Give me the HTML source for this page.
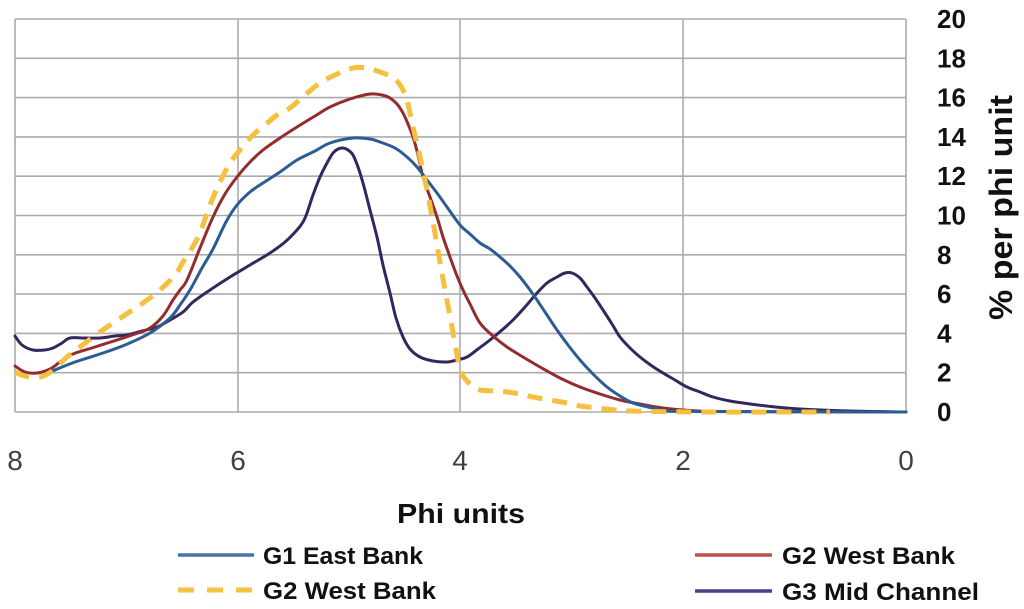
<!DOCTYPE html>
<html>
<head>
<meta charset="utf-8">
<style>
html,body{margin:0;padding:0;background:#fff;}
svg{display:block;}
text{font-family:"Liberation Sans",sans-serif;}
</style>
</head>
<body>
<svg id="chart" width="1024" height="609" viewBox="0 0 1024 609" xmlns="http://www.w3.org/2000/svg">
<rect width="1024" height="609" fill="#fff"/>
<!-- grid -->
<g stroke="#ababab" stroke-width="1.6" fill="none">
<line x1="15" y1="19" x2="906" y2="19"/>
<line x1="15" y1="58.3" x2="906" y2="58.3"/>
<line x1="15" y1="97.6" x2="906" y2="97.6"/>
<line x1="15" y1="136.9" x2="906" y2="136.9"/>
<line x1="15" y1="176.2" x2="906" y2="176.2"/>
<line x1="15" y1="215.5" x2="906" y2="215.5"/>
<line x1="15" y1="254.8" x2="906" y2="254.8"/>
<line x1="15" y1="294.1" x2="906" y2="294.1"/>
<line x1="15" y1="333.4" x2="906" y2="333.4"/>
<line x1="15" y1="372.7" x2="906" y2="372.7"/>
<line x1="15" y1="412" x2="906" y2="412"/>
<line x1="15" y1="19" x2="15" y2="412"/>
<line x1="238" y1="19" x2="238" y2="412"/>
<line x1="460" y1="19" x2="460" y2="412"/>
<line x1="683" y1="19" x2="683" y2="412"/>
<line x1="906" y1="19" x2="906" y2="412"/>
</g>
<!-- series -->
<g fill="none" stroke-linejoin="round" stroke-linecap="round">
<polyline class="s" stroke="#35265f" stroke-width="3" points="15,336 22,345 33,350 45,350 53,348 62,343 70,338 85,338 100,338 115,336 127,335 142,331 157,327 170,320 183,312 193,302 210,290 230,277 250,265 270,253 285,242 297,230 303,222 307,213 313,195 320,177 327,163 333,153 338,149 343,148 348,150 353,155 358,167 363,183 370,210 377,237 383,265 390,293 396,318 403,337 410,349 420,357 433,361 447,362 457,360 467,357 478,349 490,340 502,330 513,320 525,307 537,293 547,283 557,277 565,273 572,273 580,278 587,287 595,298 603,310 612,324 620,337 630,348 640,357 652,366 663,373 675,380 687,387 700,392 713,397 730,401 750,404 775,407 800,409 850,411 906,412"/>
<polyline class="s" stroke="#932c2e" stroke-width="3" points="15,366 25,372 37,373 50,369 60,362 73,354 95,347 117,340 135,334 150,328 163,316 173,300 180,290 187,280 200,248 213,217 225,194 237,177 250,162 263,150 280,138 297,127 315,116 330,107 350,99 370,94 382,95 390,98 397,104 403,113 408,124 413,137 418,155 423,177 430,197 437,217 443,237 450,257 457,276 463,290 470,304 480,323 493,336 507,347 523,357 540,367 560,378 580,387 600,394 620,400 640,404 663,408 690,410.5 730,411.5 906,412"/>
<polyline class="s" stroke="#2b5c93" stroke-width="3" points="50,372 75,362 100,354 125,345 150,333 170,318 180,305 190,290 202,268 213,249 226,222 237,205 250,192 263,183 280,172 297,160 315,151 330,143 353,138 370,139 380,142 395,148 407,157 417,167 427,180 437,193 447,207 460,225 470,234 480,243 490,249 500,257 510,266 520,277 530,290 537,300 547,315 557,330 568,345 580,360 593,374 607,387 620,396 633,403 648,407 663,410 690,411.5 906,412"/>
<polyline class="s" stroke="#f5bf40" stroke-width="5" stroke-linecap="butt" stroke-dasharray="15,10" points="15,372 25,376 40,377 52,371 67,357 80,347 93,337 113,323 128,313 143,303 160,290 175,275 183,262 192,248 200,233 210,205 220,182 230,163 240,150 253,135 265,125 277,115 290,108 305,95 320,83 335,75 353,68 367,68 380,72 390,76 397,81 403,90 407,100 413,127 420,157 427,190 433,222 440,262 445,290 452,327 458,360 462,374 467,381 474,387 480,390 493,391 507,392 520,394 533,397 550,400 567,403 580,406 597,408 615,410 630,411 700,412 830,412"/>
</g>
<!-- y tick labels -->
<g font-size="26" font-weight="bold" fill="#111">
<text x="937" y="28">20</text>
<text x="937" y="67.3">18</text>
<text x="937" y="106.6">16</text>
<text x="937" y="145.9">14</text>
<text x="937" y="185.2">12</text>
<text x="937" y="224.5">10</text>
<text x="937" y="263.8">8</text>
<text x="937" y="303.1">6</text>
<text x="937" y="342.4">4</text>
<text x="937" y="381.7">2</text>
<text x="937" y="421">0</text>
</g>
<!-- y axis title -->
<text transform="translate(1012,320) rotate(-90)" font-size="32" font-weight="bold" fill="#111" textLength="225" lengthAdjust="spacingAndGlyphs">% per phi unit</text>
<!-- x tick labels -->
<g font-size="28" fill="#404040" text-anchor="middle">
<text x="15" y="470">8</text>
<text x="238" y="470">6</text>
<text x="460" y="470">4</text>
<text x="683" y="470">2</text>
<text x="906" y="470">0</text>
</g>
<!-- x axis title -->
<text x="397" y="523" font-size="28" font-weight="bold" fill="#111" textLength="128" lengthAdjust="spacingAndGlyphs">Phi units</text>
<!-- legend -->
<g stroke-width="3.5" fill="none">
<line x1="178" y1="555" x2="254" y2="555" stroke="#4a73a8"/>
<line x1="178" y1="590" x2="254" y2="590" stroke="#f5c242" stroke-width="5" stroke-dasharray="16,13"/>
<line x1="695" y1="555" x2="772" y2="555" stroke="#c0504d"/>
<line x1="695" y1="591" x2="772" y2="591" stroke="#4b3e8a"/>
</g>
<g font-size="24" font-weight="bold" fill="#111">
<text x="263" y="564" textLength="160" lengthAdjust="spacingAndGlyphs">G1 East Bank</text>
<text x="263" y="599" textLength="173" lengthAdjust="spacingAndGlyphs">G2 West Bank</text>
<text x="782" y="564" textLength="173" lengthAdjust="spacingAndGlyphs">G2 West Bank</text>
<text x="782" y="600" textLength="197" lengthAdjust="spacingAndGlyphs">G3 Mid Channel</text>
</g>
</svg>
<script>
(function(){
  try{
    var NS="http://www.w3.org/2000/svg";
    var pls=document.querySelectorAll("polyline.s");
    for(var k=0;k<pls.length;k++){
      var pl=pls[k];
      var raw=pl.getAttribute("points").trim().split(/\s+/);
      var p=[];
      for(var i=0;i<raw.length;i++){var c=raw[i].split(",");p.push([parseFloat(c[0]),parseFloat(c[1])]);}
      var d="M"+p[0][0]+","+p[0][1];
      for(var i=0;i<p.length-1;i++){
        var p0=p[i>0?i-1:i],p1=p[i],p2=p[i+1],p3=p[i+2<p.length?i+2:i+1];
        var c1x=p1[0]+(p2[0]-p0[0])/6,c1y=p1[1]+(p2[1]-p0[1])/6;
        var c2x=p2[0]-(p3[0]-p1[0])/6,c2y=p2[1]-(p3[1]-p1[1])/6;
        d+=" C"+c1x.toFixed(2)+","+c1y.toFixed(2)+" "+c2x.toFixed(2)+","+c2y.toFixed(2)+" "+p2[0]+","+p2[1];
      }
      var path=document.createElementNS(NS,"path");
      path.setAttribute("d",d);
      var attrs=["stroke","stroke-width","stroke-dasharray","stroke-linecap"];
      for(var a=0;a<attrs.length;a++){var v=pl.getAttribute(attrs[a]);if(v)path.setAttribute(attrs[a],v);}
      pl.parentNode.insertBefore(path,pl);
      pl.parentNode.removeChild(pl);
    }
  }catch(e){}
})();
</script>
</body>
</html>
